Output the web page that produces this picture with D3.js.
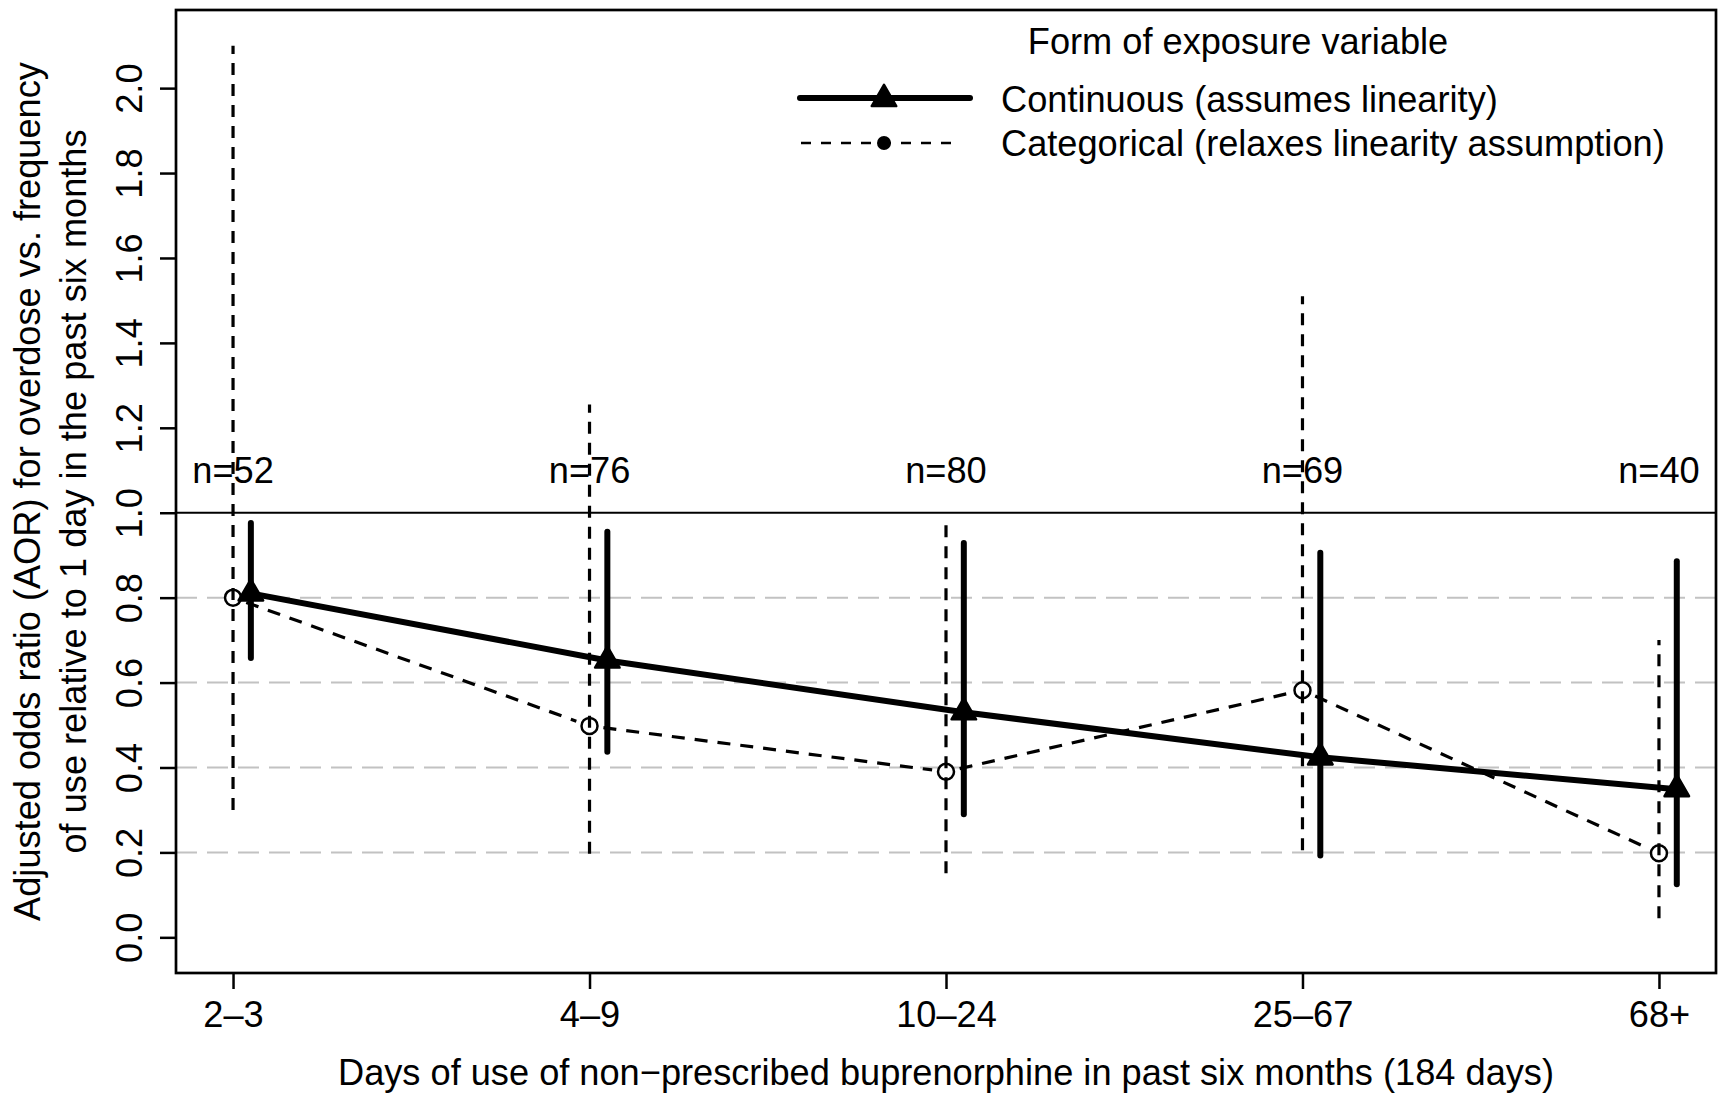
<!DOCTYPE html>
<html>
<head>
<meta charset="utf-8">
<script src="https://cdn.jsdelivr.net/npm/d3@7/dist/d3.min.js"></script>
<style>
  body { margin: 0; background: #fff; }
  text { font-family: "Liberation Sans", Arial, Helvetica, sans-serif; fill: #000; }
</style>
</head>
<body>
<div id="chart"></div>
<script>
// categories of days of use (x axis)
const categories = ["2–3", "4–9", "10–24", "25–67", "68+"];
const positions = [1, 2, 3, 4, 5];
const sampleSizes = [52, 76, 80, 69, 40];

// categorical exposure (dashed, open circles)
const catEstimate = [0.80, 0.498, 0.39, 0.582, 0.198];
const catLower = [0.30, 0.197, 0.151, 0.205, 0.045];
const catUpper = [2.10, 1.255, 0.976, 1.51, 0.70];

// continuous exposure (solid, triangles)
const contEstimate = [0.81, 0.652, 0.53, 0.424, 0.349];
const contLower = [0.658, 0.437, 0.29, 0.193, 0.125];
const contUpper = [0.976, 0.955, 0.929, 0.906, 0.886];

const yTicks = [0, 0.2, 0.4, 0.6, 0.8, 1.0, 1.2, 1.4, 1.6, 1.8, 2.0];
const gridValues = [0.2, 0.4, 0.6, 0.8];
const contOffset = 0.05;

const widthNum = 1731, heightNum = 1104,
    plotLeft = 176, plotRight = 1716, plotTop = 10, plotBottom = 973,
    fontSize = 36.2;

let svg = d3.select("#chart")
  .append("svg")
  .attr("width", widthNum)
  .attr("height", heightNum);

let x = d3.scaleLinear().domain([0.84, 5.16]).range([plotLeft, plotRight]);
let y = d3.scaleLinear().domain([-0.084, 2.184]).range([plotBottom, plotTop]);

// light dashed reference lines
svg.selectAll(".grid")
  .data(gridValues)
  .enter().append("line")
  .attr("class", "grid")
  .attr("x1", plotLeft).attr("x2", plotRight)
  .attr("y1", d => y(d)).attr("y2", d => y(d))
  .attr("stroke", "#c2c2c2")
  .attr("stroke-width", 2)
  .attr("stroke-dasharray", "21,10");

// AOR = 1 line
svg.append("line")
  .attr("x1", plotLeft).attr("x2", plotRight)
  .attr("y1", y(1)).attr("y2", y(1))
  .attr("stroke", "#000")
  .attr("stroke-width", 2.2);

// categorical: connecting dashed line with gaps at the points (type "b")
const gap = 14;
for (let i = 0; i < positions.length - 1; i++) {
  let x0 = x(positions[i]), y0 = y(catEstimate[i]),
      x1 = x(positions[i + 1]), y1 = y(catEstimate[i + 1]);
  let len = Math.hypot(x1 - x0, y1 - y0),
      ux = (x1 - x0) / len, uy = (y1 - y0) / len;
  svg.append("line")
    .attr("x1", x0 + ux * gap).attr("y1", y0 + uy * gap)
    .attr("x2", x1 - ux * gap).attr("y2", y1 - uy * gap)
    .attr("stroke", "#000")
    .attr("stroke-width", 3.2)
    .attr("stroke-dasharray", "13,10");
}

// categorical points
svg.selectAll(".catPoint")
  .data(positions)
  .enter().append("circle")
  .attr("class", "catPoint")
  .attr("cx", d => x(d))
  .attr("cy", (d, i) => y(catEstimate[i]))
  .attr("r", 8)
  .attr("fill", "#fff")
  .attr("stroke", "#000")
  .attr("stroke-width", 2.5);

// categorical confidence intervals
svg.selectAll(".catCI")
  .data(positions)
  .enter().append("line")
  .attr("class", "catCI")
  .attr("x1", d => x(d)).attr("x2", d => x(d))
  .attr("y1", (d, i) => y(catLower[i]))
  .attr("y2", (d, i) => y(catUpper[i]))
  .attr("stroke", "#000")
  .attr("stroke-width", 3.2)
  .attr("stroke-dasharray", "12,9");

// continuous line
svg.append("path")
  .datum(positions)
  .attr("fill", "none")
  .attr("stroke", "#000")
  .attr("stroke-width", 6)
  .attr("d", d3.line()
    .x(d => x(d + contOffset))
    .y((d, i) => y(contEstimate[i])));

// continuous confidence intervals
svg.selectAll(".contCI")
  .data(positions)
  .enter().append("line")
  .attr("class", "contCI")
  .attr("x1", d => x(d + contOffset)).attr("x2", d => x(d + contOffset))
  .attr("y1", (d, i) => y(contLower[i]))
  .attr("y2", (d, i) => y(contUpper[i]))
  .attr("stroke", "#000")
  .attr("stroke-width", 6)
  .attr("stroke-linecap", "round");

// continuous points
const tri = d3.symbol().type(d3.symbolTriangle).size(260);
svg.selectAll(".contPoint")
  .data(positions)
  .enter().append("path")
  .attr("class", "contPoint")
  .attr("transform", (d, i) => `translate(${x(d + contOffset)},${y(contEstimate[i])})`)
  .attr("d", tri)
  .attr("fill", "#000")
  .attr("stroke", "#000")
  .attr("stroke-width", 2.5)
  .attr("stroke-linejoin", "round");

// sample sizes
svg.selectAll(".nLabel")
  .data(positions)
  .enter().append("text")
  .attr("class", "nLabel")
  .attr("x", d => x(d))
  .attr("y", y(1.1) + 13)
  .attr("text-anchor", "middle")
  .style("font-size", fontSize + "px")
  .text((d, i) => "n=" + sampleSizes[i]);

// axes
let xAxis = svg.append("g")
  .attr("transform", `translate(0,${plotBottom})`)
  .call(d3.axisBottom(x).tickValues(positions).tickSize(16)
    .tickFormat((d, i) => categories[i]));
xAxis.select(".domain").remove();
xAxis.selectAll("line").attr("stroke-width", 2.5);
xAxis.selectAll("text").style("font-size", fontSize + "px")
  .attr("dy", null).attr("y", 54);
xAxis.attr("font-family", null).attr("font-size", null);

let yAxis = svg.append("g")
  .attr("transform", `translate(${plotLeft},0)`)
  .call(d3.axisLeft(y).tickValues(yTicks).tickSize(16).tickFormat(d3.format(".1f")));
yAxis.select(".domain").remove();
yAxis.selectAll("line").attr("stroke-width", 2.5);
yAxis.selectAll("text")
  .attr("x", null).attr("dy", null)
  .attr("text-anchor", "middle")
  .attr("transform", "translate(-34,0) rotate(-90)")
  .style("font-size", fontSize + "px");
yAxis.attr("font-family", null).attr("font-size", null);

// plot frame
svg.append("rect")
  .attr("x", plotLeft).attr("y", plotTop)
  .attr("width", plotRight - plotLeft).attr("height", plotBottom - plotTop)
  .attr("fill", "none")
  .attr("stroke", "#000")
  .attr("stroke-width", 2.7);

// axis titles
svg.append("text")
  .attr("x", (plotLeft + plotRight) / 2)
  .attr("y", 1085)
  .attr("text-anchor", "middle")
  .style("font-size", fontSize + "px")
  .text("Days of use of non−prescribed buprenorphine in past six months (184 days)");

const yTitle = ["Adjusted odds ratio (AOR) for overdose vs. frequency",
                "of use relative to 1 day in the past six months"];
svg.selectAll(".yTitle")
  .data(yTitle)
  .enter().append("text")
  .attr("class", "yTitle")
  .attr("transform", (d, i) => `translate(${40 + i * 46},${(plotTop + plotBottom) / 2}) rotate(-90)`)
  .attr("text-anchor", "middle")
  .style("font-size", fontSize + "px")
  .text(d => d);

// legend
let legend = svg.append("g");
legend.append("text")
  .attr("x", 1238).attr("y", 54)
  .attr("text-anchor", "middle")
  .style("font-size", fontSize + "px")
  .text("Form of exposure variable");

legend.append("line")
  .attr("x1", 800).attr("x2", 970)
  .attr("y1", 98).attr("y2", 98)
  .attr("stroke", "#000").attr("stroke-width", 6)
  .attr("stroke-linecap", "round");
legend.append("path")
  .attr("transform", "translate(884,99)")
  .attr("d", tri)
  .attr("fill", "#000").attr("stroke", "#000")
  .attr("stroke-width", 2.5).attr("stroke-linejoin", "round");
legend.append("text")
  .attr("x", 1001).attr("y", 112)
  .style("font-size", fontSize + "px")
  .text("Continuous (assumes linearity)");

legend.append("line")
  .attr("x1", 801).attr("x2", 960)
  .attr("y1", 143).attr("y2", 143)
  .attr("stroke", "#000").attr("stroke-width", 2.6)
  .attr("stroke-dasharray", "10,10");
legend.append("circle")
  .attr("cx", 884).attr("cy", 143).attr("r", 7)
  .attr("fill", "#000");
legend.append("text")
  .attr("x", 1001).attr("y", 156)
  .style("font-size", fontSize + "px")
  .text("Categorical (relaxes linearity assumption)");
</script>
</body>
</html>
